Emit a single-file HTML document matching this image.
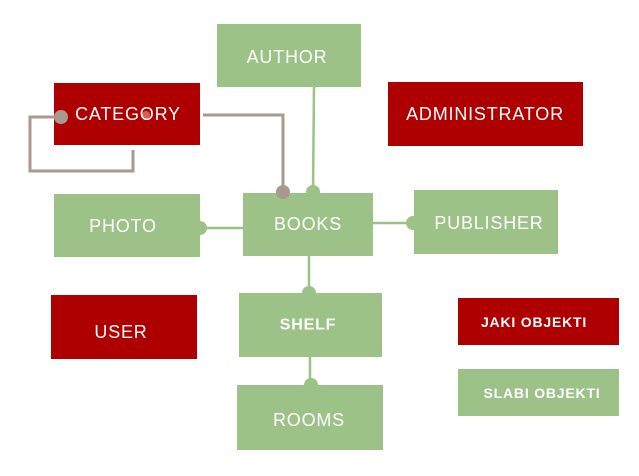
<!DOCTYPE html>
<html><head><style>
html,body{margin:0;padding:0;background:#fff;width:639px;height:476px;overflow:hidden}
text{font-family:"Liberation Sans",sans-serif;fill:#fff;text-anchor:middle;dominant-baseline:central;letter-spacing:0.8px}
</style></head><body>
<svg width="639" height="476" viewBox="0 0 639 476" xmlns="http://www.w3.org/2000/svg">
<g fill="none" stroke="#a89a8f" stroke-width="3">
<polyline points="58,117 30,117 30,171 133,171 133,150"/>
<polyline points="203,115 283,115 283,192"/>
</g>
<g stroke="#9dc288" stroke-width="2.5" fill="none">
<line x1="314" y1="87" x2="313" y2="192"/>
<line x1="200" y1="228" x2="243" y2="228"/>
<line x1="373" y1="223" x2="414" y2="223"/>
<line x1="309" y1="256" x2="309" y2="293"/>
<line x1="310" y1="357" x2="310" y2="385"/>
</g>
<g fill="#ae0000">
<rect x="54" y="83" width="146" height="62"/>
<rect x="388" y="82" width="195" height="64"/>
<rect x="51" y="295" width="146" height="64"/>
<rect x="458" y="298" width="161" height="47"/>
</g>
<g fill="#9dc288">
<rect x="217" y="24" width="144" height="63"/>
<rect x="54" y="194" width="146" height="63"/>
<rect x="243" y="193" width="130" height="63"/>
<rect x="414" y="190" width="144" height="64"/>
<rect x="239" y="293" width="143" height="64"/>
<rect x="237" y="385" width="146" height="65"/>
<rect x="458" y="369" width="161" height="47"/>
<circle cx="313" cy="192" r="7"/>
<circle cx="200" cy="228" r="7"/>
<circle cx="413" cy="223" r="7"/>
<circle cx="309" cy="293" r="7"/>
<circle cx="311" cy="385" r="7"/>
</g>
<g fill="#a89a8f">
<circle cx="61" cy="117" r="7"/>
<circle cx="283" cy="192" r="7"/>
</g>
<circle cx="146" cy="115" r="4" fill="#d9604f"/>
<text x="287" y="57" font-size="18">AUTHOR</text>
<text x="128" y="114" font-size="18">CATEGORY</text>
<text x="485" y="114" font-size="18">ADMINISTRATOR</text>
<text x="123" y="226" font-size="18">PHOTO</text>
<text x="308" y="224" font-size="18">BOOKS</text>
<text x="489" y="223" font-size="18">PUBLISHER</text>
<text x="121" y="332" font-size="18">USER</text>
<text x="308" y="325" font-size="16" font-weight="bold">SHELF</text>
<text x="534" y="322" font-size="14" font-weight="bold">JAKI OBJEKTI</text>
<text x="309" y="420" font-size="18">ROOMS</text>
<text x="542" y="393" font-size="14" font-weight="bold">SLABI OBJEKTI</text>
</svg>
</body></html>
